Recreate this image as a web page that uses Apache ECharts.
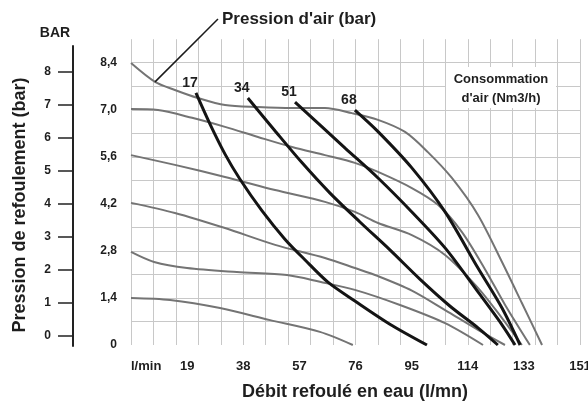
<!DOCTYPE html>
<html><head><meta charset="utf-8">
<script src="https://cdn.jsdelivr.net/npm/echarts@6/dist/echarts.min.js"></script>
<style>html,body{margin:0;padding:0;background:#fff}#c{width:588px;height:405px}</style>
</head><body><div id="c"></div>
<script>
// ---- data: flow (l/min), discharge pressure (bar) ----
// pump curves at given air supply pressure (bar)
const airPressureNames = ['8,4', '7,0', '5,6', '4,2', '2,8', '1,4'];
const air84 = [[0,8.39],[8.1,7.83],[14.8,7.59],[22.6,7.35],[31.7,7.14],[42.8,7.08],[54.3,7.05],[65.4,7.05],[74.5,6.9],[83.3,6.7],[92.4,6.34],[100.1,5.74],[108.2,4.97],[117,3.87],[125.1,2.47],[131.8,1.25],[138.6,0]];
const air70 = [[0,7.02],[9.1,6.99],[20.6,6.76],[31.7,6.49],[42.8,6.19],[54.3,5.89],[65.4,5.65],[75.5,5.42],[83.3,5.15],[94.7,4.67],[103.5,4.17],[111.6,3.36],[119.4,2.25],[126.1,1.2],[134.5,0]];
const air56 = [[0,5.65],[14.8,5.36],[31.7,5.0],[48.6,4.61],[65.4,4.26],[75.5,3.96],[83.3,3.63],[94.7,3.27],[105.9,2.68],[117,1.7],[125.1,0.8],[131.8,0]];
const air42 = [[0,4.23],[14.8,3.93],[31.7,3.48],[48.6,2.98],[65.4,2.59],[75.5,2.29],[83.3,2.05],[94.7,1.62],[105.9,1.04],[117,0.45],[126.1,0]];
const air28 = [[0,2.77],[7.8,2.47],[18.9,2.29],[35.7,2.17],[52.6,2.08],[63.7,1.88],[75.5,1.64],[90.7,1.19],[105.9,0.65],[118.7,0]];
const air14 = [[0,1.4],[13.2,1.34],[30,1.1],[46.9,0.74],[63.7,0.39],[74.8,0]];
// air consumption curves (Nm3/h)
const consumptionNames = ['17', '34', '51', '68'];
const cons17 = [[21.9,7.5],[26.6,6.58],[31.7,5.68],[36.7,4.94],[44.2,3.99],[51.9,3.15],[58.7,2.53],[66.4,1.87],[75.5,1.31],[87.3,0.62],[99.8,0]];
const cons34 = [[39.4,7.35],[48.6,6.37],[57.7,5.42],[67.1,4.52],[77.2,3.66],[87.3,2.83],[97.4,1.96],[107.5,1.16],[117,0.51],[123.7,0]];
const cons51 = [[55.3,7.23],[72.2,5.86],[83.3,4.97],[94.7,3.96],[105.9,2.89],[117,1.58],[125.1,0.6],[129.5,0]];
const cons68 = [[75.5,6.99],[83.3,6.35],[94.7,5.27],[105.9,3.96],[117,2.29],[125.1,1.1],[131.2,0]];
// tick labels
const xTickLabels = ['19', '38', '57', '76', '95', '114', '133', '151'];
const xUnitLabel = 'l/min';
const yInnerTickLabels = ['0', '1,4', '2,8', '4,2', '5,6', '7,0', '8,4'];
const yOuterTickLabels = ['0', '1', '2', '3', '4', '5', '6', '7', '8'];
// leader point on the 8,4 bar curve for the "Pression d'air" note
const leaderPoint = [8.1, 7.83];

// ---- chart ----
const FONT = '"Liberation Sans", Arial, sans-serif';
const TXT = '#1e1e1e';
const GRIDC = '#c8c8c8';
const flowMax = 151.4, gridStepX = 7.57, labelStepX = 18.925, pMax = 9.1, gridStepY = 0.7;

const chart = echarts.init(document.getElementById('c'), null, {renderer: 'canvas', width: 588, height: 405});

const grayCurves = [air84, air70, air56, air42, air28, air14];
const blackCurves = [cons17, cons34, cons51, cons68];

const series = [];
grayCurves.forEach((d, i) => {
  series.push({
    name: airPressureNames[i], type: 'line', xAxisIndex: 1, yAxisIndex: 0,
    data: d, smooth: 0.3, showSymbol: false, symbol: 'none', silent: true,
    lineStyle: {color: '#747474', width: 2}, z: 3
  });
});
blackCurves.forEach((d, i) => {
  series.push({
    name: consumptionNames[i], type: 'line', xAxisIndex: 1, yAxisIndex: 0,
    data: d, smooth: 0.3, showSymbol: false, symbol: 'none', silent: true,
    lineStyle: {color: '#141414', width: 3}, z: 4
  });
});

const hidden = {show: false};
const option = {
  animation: false,
  backgroundColor: '#fff',
  grid: [
    {left: 131, top: 39.2, width: 449, height: 305.8, outerBoundsMode: 'none', containLabel: false},
    {left: 73, top: 46, width: 10, height: 300, outerBoundsMode: 'none', containLabel: false},
    {left: 73, top: 72, width: 10, height: 264, outerBoundsMode: 'none', containLabel: false}
  ],
  xAxis: [
    {gridIndex: 0, type: 'value', position: 'top', min: 0, max: flowMax, interval: gridStepX,
      axisLine: hidden, axisTick: hidden, axisLabel: hidden,
      splitLine: {show: true, lineStyle: {color: GRIDC, width: 1}}},
    {gridIndex: 0, type: 'value', position: 'bottom', min: 0, max: flowMax, interval: labelStepX,
      axisLine: hidden, axisTick: hidden, splitLine: hidden,
      axisLabel: {show: true, margin: 15, fontFamily: FONT, fontWeight: 'bold', fontSize: 13, color: TXT,
        formatter: v => { const i = Math.round(v / labelStepX); return i === 0 ? '' : (xTickLabels[i - 1] || ''); }}},
    {gridIndex: 1, type: 'value', show: false},
    {gridIndex: 2, type: 'value', show: false}
  ],
  yAxis: [
    {gridIndex: 0, type: 'value', min: 0, max: pMax, interval: gridStepY,
      axisLine: hidden, axisTick: hidden,
      splitLine: {show: true, showMinLine: false, showMaxLine: false, lineStyle: {color: GRIDC, width: 1}},
      axisLabel: {show: true, margin: 14, fontFamily: FONT, fontWeight: 'bold', fontSize: 12, color: TXT,
        formatter: v => { const k = Math.round(v / gridStepY); return (k % 2 === 0 && k / 2 < yInnerTickLabels.length) ? yInnerTickLabels[k / 2] : ''; }}},
    {gridIndex: 1, type: 'value', min: 0, max: 1,
      axisLine: {show: true, onZero: false, lineStyle: {color: '#222', width: 2}},
      axisTick: hidden, axisLabel: hidden, splitLine: hidden},
    {gridIndex: 2, type: 'value', min: 0, max: 8, interval: 1,
      axisLine: {show: false, onZero: false},
      axisTick: {show: true, length: 15, lineStyle: {color: '#222', width: 1.5}},
      splitLine: hidden,
      axisLabel: {show: true, margin: 22, fontFamily: FONT, fontWeight: 'bold', fontSize: 12, color: TXT,
        formatter: v => yOuterTickLabels[Math.round(v)]}}
  ],
  series: series
};
chart.setOption(option);

const toPx = p => chart.convertToPixel({xAxisIndex: 1, yAxisIndex: 0}, p);
const lp = toPx(leaderPoint);
const t = (text, x, y, size, align, extra) => Object.assign({
  type: 'text', x: x, y: y, z: 100,
  style: {text: text, fill: TXT, font: 'bold ' + size + 'px ' + FONT, align: align || 'center', verticalAlign: 'middle'}
}, extra || {});

const curveLabels = blackCurves.map((d, i) => {
  const p = toPx(d[0]);
  return t(consumptionNames[i], p[0] - 6, p[1] - 10, 14);
});

chart.setOption({
  graphic: [
    {type: 'line', z: 50, shape: {x1: lp[0], y1: lp[1], x2: 218, y2: 19}, style: {stroke: '#1a1a1a', lineWidth: 1.5}},
    t("Pression d'air (bar)", 222, 19, 17, 'left'),
    t('BAR', 55, 33, 14),
    t('Pression de refoulement (bar)', 20, 205, 18, 'center', {rotation: Math.PI / 2}),
    t('Débit refoulé en eau (l/mn)', 355, 392, 18),
    t(xUnitLabel, 131, 366, 13, 'left'),
    {type: 'rect', z: 90, shape: {x: 446, y: 67, width: 110, height: 41}, style: {fill: '#fff'}},
    t('Consommation', 501, 79, 13),
    t("d'air (Nm3/h)", 501, 98, 13)
  ].concat(curveLabels)
});
</script>
</body></html>
